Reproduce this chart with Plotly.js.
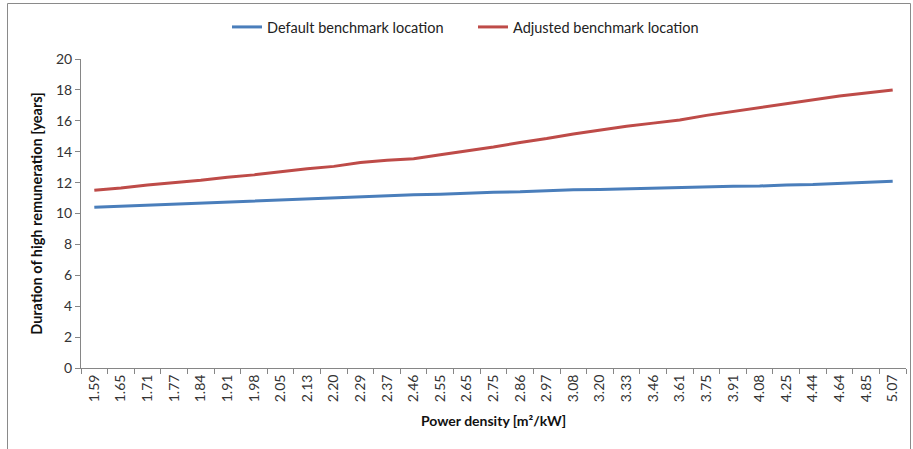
<!DOCTYPE html>
<html>
<head>
<meta charset="utf-8">
<script src="https://cdn.plot.ly/plotly-3.0.1.min.js"></script>
<style>html,body{margin:0;padding:0;background:#fff;}#chart{width:913px;height:449px;}</style>
</head>
<body>
<div id="chart"></div>
<script>
const categories = ["1.59","1.65","1.71","1.77","1.84","1.91","1.98","2.05","2.13","2.20","2.29","2.37","2.46","2.55","2.65","2.75","2.86","2.97","3.08","3.20","3.33","3.46","3.61","3.75","3.91","4.08","4.25","4.44","4.64","4.85","5.07"];
const defaultBenchmark = [10.4,10.47,10.53,10.6,10.67,10.75,10.82,10.9,10.97,11.0,11.08,11.15,11.22,11.25,11.32,11.38,11.4,11.47,11.53,11.55,11.6,11.63,11.67,11.75,11.77,11.78,11.85,11.87,11.93,12.0,12.08];
const adjustedBenchmark = [11.5,11.65,11.85,12.0,12.15,12.35,12.5,12.7,12.9,13.05,13.3,13.45,13.55,13.8,14.05,14.3,14.6,14.85,15.15,15.4,15.65,15.85,16.05,16.35,16.6,16.85,17.1,17.35,17.6,17.8,18.0];
const yTicks = [0,2,4,6,8,10,12,14,16,18,20];

const font = "Lato, 'Liberation Sans', sans-serif";
const L = 81, R = 7, T = 59, B = 81, W = 913, H = 449;
const pw = W - L - R, ph = H - T - B;
const traces = [
  {x: categories, y: defaultBenchmark, type: "scatter", mode: "lines", name: "Default benchmark location",
   line: {color: "#4A7EBB", width: 3}},
  {x: categories, y: adjustedBenchmark, type: "scatter", mode: "lines", name: "Adjusted benchmark location",
   line: {color: "#BE4B48", width: 3}}
];
const layout = {
  width: W, height: H,
  margin: {l: L, r: R, t: T, b: B, autoexpand: false},
  paper_bgcolor: "#fff", plot_bgcolor: "#fff",
  font: {family: font, size: 14, color: "#333"},
  showlegend: true,
  legend: {orientation: "h", x: (227 - L) / pw, xanchor: "left", y: (H - B - 27) / ph, yanchor: "middle",
           entrywidth: 201, entrywidthmode: "pixels",
           bgcolor: "rgba(0,0,0,0)", font: {family: font, size: 14.5, color: "#222"}, itemwidth: 30, tracegroupgap: 0},
  xaxis: {type: "category", range: [-0.5, categories.length - 0.5], tickangle: -90, tickson: "boundaries",
          ticks: "outside", ticklen: 5,
          tickcolor: "#868686", showline: true, linecolor: "#868686", linewidth: 1,
          showgrid: false, zeroline: false, tickfont: {family: font, size: 14, color: "#333"},
          title: {text: "<b>Power density [m²/kW]</b>", font: {family: font, size: 14, color: "#111"}, standoff: 14}},
  yaxis: {range: [0, 20], tickvals: yTicks, ticks: "outside", ticklen: 5, tickcolor: "#868686",
          showline: true, linecolor: "#868686", linewidth: 1, showgrid: false, zeroline: false,
          tickfont: {family: font, size: 14, color: "#333"},
          title: {text: "<b>Duration of high remuneration [years]</b>", font: {family: font, size: 14.5, color: "#111"}, standoff: 9}},
  shapes: [{type: "path", xref: "paper", yref: "paper",
            path: "M " + ((7.5 - L) / pw) + " " + ((H - B - 460) / ph) +
                  " L " + ((7.5 - L) / pw) + " " + ((H - B - 3.5) / ph) +
                  " L " + ((910.5 - L) / pw) + " " + ((H - B - 3.5) / ph) +
                  " L " + ((910.5 - L) / pw) + " " + ((H - B - 460) / ph),
            line: {color: "#8a8a8a", width: 1}, layer: "below"}]
};
Plotly.newPlot("chart", traces, layout, {staticPlot: true, displayModeBar: false});
</script>
</body>
</html>
